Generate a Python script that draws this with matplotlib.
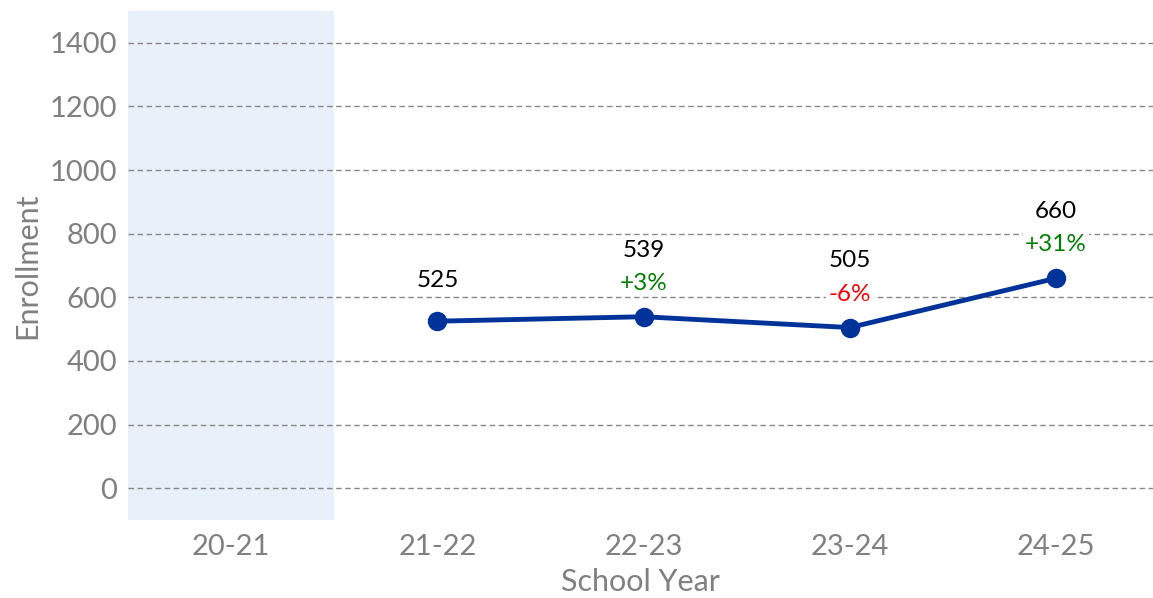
import numpy as np
import matplotlib.pyplot as plt

# data
years = ["20-21", "21-22", "22-23", "23-24", "24-25"]
enrollment = [np.nan, 525, 539, 505, 660]
pct_change = [None, None, "+3%", "-6%", "+31%"]
pct_colors = [None, None, "green", "red", "green"]
no_data_years = ["20-21"]

plt.rcParams["font.family"] = ["Lato", "DejaVu Sans"]

fig = plt.figure(figsize=(11.53, 5.98), dpi=100)
ax = fig.add_axes([0.111, 0.1304, 0.889, 0.8512])

x = np.arange(len(years))

# shaded band for years without data
for yr in no_data_years:
    i = years.index(yr)
    ax.axvspan(i - 0.5, i + 0.5, color="#e8f0f9", zorder=0, lw=0)

ax.plot(x, enrollment, color="#003399", lw=3.5, marker="o", ms=13, zorder=3)

box = dict(boxstyle="square,pad=0.1", fc="white", ec="none")
for i, v in enumerate(enrollment):
    if np.isnan(v):
        continue
    if pct_change[i] is None:
        ax.annotate(f"{v:.0f}", (x[i], v), xytext=(0, 29), textcoords="offset points",
                    ha="center", va="center", fontsize=17.5, color="black",
                    bbox=box, zorder=4)
    else:
        ax.annotate(f"{v:.0f}", (x[i], v), xytext=(0, 48), textcoords="offset points",
                    ha="center", va="center", fontsize=17.5, color="black",
                    bbox=box, zorder=4)
        ax.annotate(pct_change[i], (x[i], v), xytext=(0, 24), textcoords="offset points",
                    ha="center", va="center", fontsize=17.5, color=pct_colors[i],
                    bbox=box, zorder=4)

ax.set_xlim(-0.5, 4.47)
ax.set_ylim(-100, 1500)
ax.set_yticks(np.arange(0, 1401, 200))
ax.set_xticks(x)
ax.set_xticklabels(years)

ax.grid(axis="y", color="#888888", ls="--", lw=1, dashes=(4, 2.5))
ax.set_axisbelow(True)
for s in ax.spines.values():
    s.set_visible(False)
ax.tick_params(length=0, labelsize=21, labelcolor="#808080", pad=8)
ax.tick_params(axis="x", pad=10)

ax.set_xlabel("School Year", fontsize=22, color="#808080", labelpad=6)
ax.set_ylabel("Enrollment", fontsize=22, color="#808080", labelpad=6)

fig.savefig("out.png", dpi=100)
